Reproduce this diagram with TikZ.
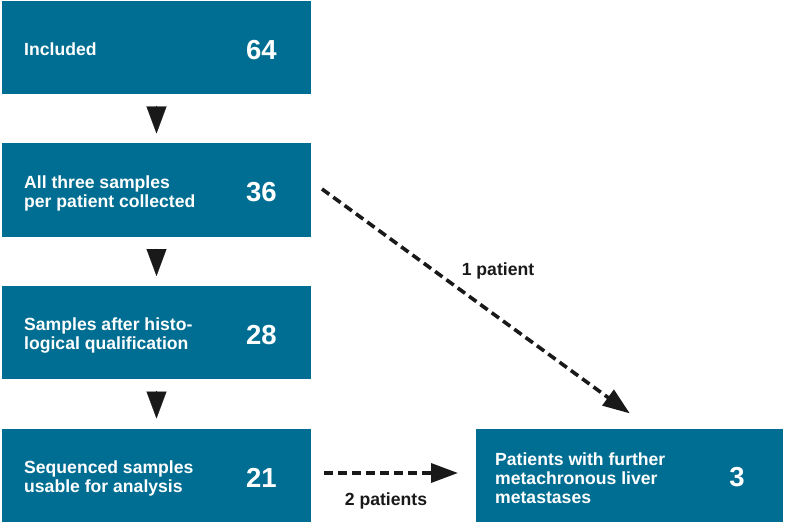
\documentclass[tikz,border=0pt]{standalone}
\usepackage{fontspec}
\setmainfont{Liberation Sans}
\usetikzlibrary{arrows.meta,calc}
\definecolor{boxblue}{RGB}{0,110,146}
\definecolor{ink}{RGB}{25,25,25}
\begin{document}
\begin{tikzpicture}[x=1pt,y=-1pt,
  box/.style={fill=boxblue, minimum width=309pt, minimum height=93pt, inner sep=0pt, outer sep=0pt},
  lbl/.style={text=white, font=\fontsize{17.6}{19}\selectfont\bfseries, align=left, anchor=west, inner sep=0pt},
  num/.style={text=white, font=\fontsize{27.5}{30}\selectfont\bfseries, inner sep=0pt},
  dn/.style={draw=ink, fill=ink, line width=0.2pt, shorten <=12pt, shorten >=10pt, -{Triangle[length=27pt,width=20pt]}},
  dsh/.style={draw=ink, line width=3.6pt, dash pattern=on 9pt off 5pt, -{Triangle[length=27pt,width=19pt]}},
  side/.style={text=ink, font=\fontsize{17.6}{19}\selectfont\bfseries, inner sep=0pt}]
\useasboundingbox (0,0) rectangle (787,524);
\fill[white] (0,0) rectangle (787,524);

\node[box] (b1) at (156.5,47.5) {};
\node[box] (b2) at (156.5,190) {};
\node[box] (b3) at (156.5,332.5) {};
\node[box] (b4) at (156.5,475) {};
\node[box, minimum width=307pt] (b5) at (629.5,475) {};

\node[lbl] (t1) at ([xshift=22pt,yshift=-2pt]b1.west) {Included};
\node[lbl] (t2) at ([xshift=22pt,yshift=-3pt]b2.west) {All three samples\\per patient collected};
\node[lbl] (t3) at ([xshift=22pt,yshift=-3pt]b3.west) {Samples after histo-\\logical qualification};
\node[lbl] (t4) at ([xshift=22pt,yshift=-3pt]b4.west) {Sequenced samples\\usable for analysis};
\node[lbl] (t5) at ([xshift=19pt,yshift=-3pt]b5.west) {Patients with further\\metachronous liver\\metastases};

\node[num] (n1) at ([xshift=105pt,yshift=-2.5pt]b1.center) {64};
\node[num] (n2) at ([xshift=105pt,yshift=-2.5pt]b2.center) {36};
\node[num] (n3) at ([xshift=105pt,yshift=-2.5pt]b3.center) {28};
\node[num] (n4) at ([xshift=105pt,yshift=-2.5pt]b4.center) {21};
\node[num] (n5) at ([xshift=107.5pt,yshift=-2.5pt]b5.center) {3};

\draw[dn] (b1.south) -- (b2.north);
\draw[dn] (b2.south) -- (b3.north);
\draw[dn] (b3.south) -- (b4.north);

\draw[dsh, shorten <=13.6pt, shorten >=25.6pt] ([yshift=9pt]b2.east) -- ([xshift=21pt]b5.north);
\draw[dsh, shorten <=13pt, shorten >=18pt] ([yshift=2pt]b4.east) -- ([yshift=2pt]b5.west);

\node[side] (l1) at (498,271) {1 patient};
\node[side] (l2) at (386,501) {2 patients};
\end{tikzpicture}
\end{document}
